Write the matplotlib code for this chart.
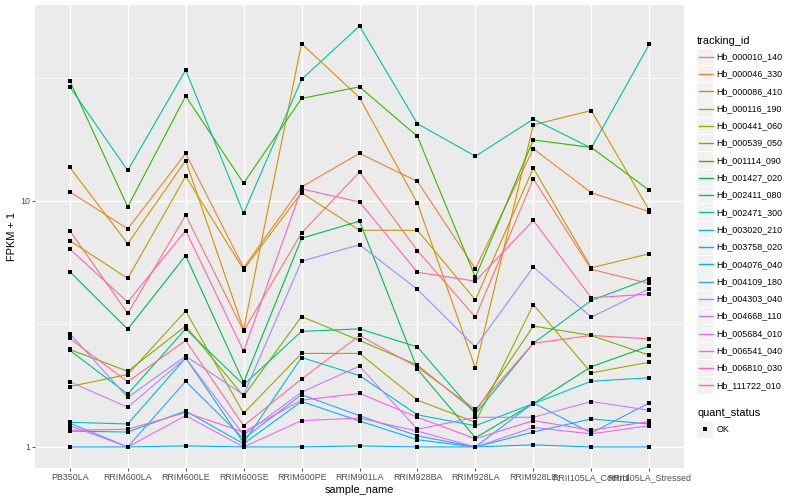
import matplotlib
matplotlib.use('Agg')
import matplotlib.pyplot as plt
import numpy as np
from matplotlib.patches import Rectangle
from matplotlib.lines import Line2D

plt.rcParams['font.family'] = ['Liberation Sans', 'DejaVu Sans']

samples = ['PB350LA', 'RRIM600LA', 'RRIM600LE', 'RRIM600SE', 'RRIM600PE', 'RRIM901LA',
           'RRIM928BA', 'RRIM928LA', 'RRIM928LE', 'RRII105LA_Control', 'RRII105LA_Stressed']

tracking_ids = ['Hb_000010_140', 'Hb_000046_330', 'Hb_000086_410', 'Hb_000116_190', 'Hb_000441_060',
                'Hb_000539_050', 'Hb_001114_090', 'Hb_001427_020', 'Hb_002411_080', 'Hb_002471_300',
                'Hb_003020_210', 'Hb_003758_020', 'Hb_004076_040', 'Hb_004109_180', 'Hb_004303_040',
                'Hb_004668_110', 'Hb_005684_010', 'Hb_006541_040', 'Hb_006810_030', 'Hb_111722_010']

# FPKM + 1 per gene, in sample order
hb_000010_140 = [7.58, 3.49, 8.76, 2.96, 7.41, 13.1, 6.28, 3.37, 12.3, 5.27, 4.62]
hb_000046_330 = [10.9, 7.7, 15.6, 5.35, 11.4, 15.6, 12.0, 5.3, 16.3, 10.8, 9.05]
hb_000086_410 = [13.7, 6.7, 14.6, 3.0, 43.6, 26.3, 9.8, 2.09, 20.4, 23.3, 9.17]
hb_000116_190 = [6.9, 4.84, 12.6, 5.26, 10.8, 7.6, 7.6, 3.96, 13.6, 5.35, 6.1]
hb_000441_060 = [1.76, 1.97, 3.57, 1.37, 2.4, 2.4, 1.55, 1.26, 3.79, 2.0, 2.21]
hb_000539_050 = [2.49, 2.03, 3.10, 1.61, 3.39, 2.71, 2.15, 1.39, 3.10, 2.84, 2.36]
hb_001114_090 = [30.8, 9.46, 26.7, 11.8, 26.1, 29.1, 18.3, 4.9, 17.7, 16.5, 11.05]
hb_001427_020 = [5.16, 3.01, 6.0, 1.83, 7.05, 8.28, 2.07, 1.09, 1.5, 2.12, 2.57]
hb_002411_080 = [2.47, 1.64, 3.02, 1.79, 2.95, 3.02, 2.55, 1.36, 2.64, 3.94, 4.83]
hb_002471_300 = [29.1, 13.3, 34.1, 8.9, 31.2, 51.4, 20.6, 15.2, 21.5, 16.4, 43.3]
hb_003020_210 = [1.26, 1.24, 2.3, 1.04, 2.31, 1.95, 1.35, 1.22, 1.5, 1.85, 1.91]
hb_003758_020 = [1.16, 1.15, 1.40, 1.03, 1.53, 1.275, 1.07, 1.0, 1.15, 1.30, 1.24]
hb_004076_040 = [1.0, 1.0, 1.01, 1.0, 1.0, 1.01, 1.0, 1.0, 1.02, 1.0, 1.0]
hb_004109_180 = [1.25, 1.0, 1.85, 1.08, 1.63, 1.34, 1.11, 1.0, 1.51, 1.14, 1.51]
hb_004303_040 = [2.89, 1.59, 2.34, 1.63, 5.69, 6.64, 4.37, 2.55, 5.39, 3.37, 4.40]
hb_004668_110 = [1.84, 1.45, 2.3, 1.12, 1.67, 2.13, 1.18, 1.32, 1.32, 1.53, 1.41]
hb_005684_010 = [1.22, 1.0, 1.34, 1.0, 1.28, 1.31, 1.16, 1.0, 1.2, 1.13, 1.22]
hb_006541_040 = [1.17, 1.18, 1.38, 1.15, 1.55, 1.65, 1.32, 1.08, 1.28, 1.17, 1.27]
hb_006810_030 = [6.38, 3.88, 7.58, 2.45, 11.2, 9.9, 5.13, 4.72, 8.33, 4.04, 4.18]
hb_111722_010 = [2.76, 1.84, 2.71, 1.22, 1.89, 2.84, 2.11, 1.42, 2.64, 2.84, 2.75]

series = [hb_000010_140, hb_000046_330, hb_000086_410, hb_000116_190, hb_000441_060,
          hb_000539_050, hb_001114_090, hb_001427_020, hb_002411_080, hb_002471_300,
          hb_003020_210, hb_003758_020, hb_004076_040, hb_004109_180, hb_004303_040,
          hb_004668_110, hb_005684_010, hb_006541_040, hb_006810_030, hb_111722_010]

colors = ["#F8766D", "#EA8331", "#D89000", "#C09B00", "#A3A500", "#7CAE00", "#39B600",
          "#00BB4E", "#00BF7D", "#00C1A3", "#00BFC4", "#00BAE0", "#00B0F6", "#35A2FF",
          "#9590FF", "#C77CFF", "#E76BF3", "#FA62DB", "#FF62BC", "#FF6C91"]

y_ticks = [1, 10]
y_tick_labels = ['1', '10']

W, H = 800, 500
fig = plt.figure(figsize=(W / 100, H / 100), dpi=100)
fig.patch.set_facecolor('white')

pl, pr, pt, pb = 35, 684, 5, 468
ax = fig.add_axes([pl / W, 1 - pb / H, (pr - pl) / W, (pb - pt) / H])
ax.set_facecolor('#EBEBEB')
for s in ax.spines.values():
    s.set_visible(False)

x = np.arange(len(samples))
for vals, c in zip(series, colors):
    ax.plot(x, vals, color=c, lw=0.8, zorder=2, solid_capstyle='butt')
for vals in series:
    ax.scatter(x, vals, marker='s', s=8, color='black', zorder=3, linewidths=0)

ax.set_yscale('log')
allv = np.log10(np.concatenate([np.array(v) for v in series]))
lo, hi = allv.min(), allv.max()
pad = 0.05 * (hi - lo)
ax.set_ylim(10 ** (lo - pad), 10 ** (hi + pad))
ax.set_xlim(-0.6, len(samples) - 1 + 0.6)

ax.set_yticks(y_ticks)
ax.set_yticklabels(y_tick_labels)
ax.set_yticks([10 ** 0.5, 10 ** 1.5], minor=True)
ax.yaxis.set_minor_formatter(matplotlib.ticker.NullFormatter())
ax.set_xticks(x)
ax.set_xticklabels(samples)

ax.grid(True, which='major', color='white', lw=1.05, zorder=0)
ax.grid(True, which='minor', axis='y', color='white', lw=0.5, zorder=0)
ax.set_axisbelow(True)
ax.tick_params(which='major', length=2.0, width=0.6, color='#333333',
               labelsize=6.4, labelcolor='#4D4D4D', pad=1.6)
ax.tick_params(which='minor', length=0)

ax.set_xlabel('sample_name', fontsize=7.9, color='black', labelpad=2.5)
ax.set_ylabel('FPKM + 1', fontsize=7.9, color='black', labelpad=2.5)

# legend (drawn in figure pixel coords)
def fx(px):
    return px / W

def fy(py):
    return 1 - py / H

fig.text(fx(697), fy(40.7), 'tracking_id', fontsize=7.9, va='center', ha='left')
step = 17.3
for i, (tid, c) in enumerate(zip(tracking_ids, colors)):
    yc = 56.7 + step * i
    fig.add_artist(Rectangle((fx(697), fy(yc + 8.2)), 16.4 / W, 16.4 / H,
                             transform=fig.transFigure, facecolor='#F2F2F2',
                             edgecolor='none', zorder=1))
    fig.add_artist(Line2D([fx(698.7), fx(713.1)], [fy(yc), fy(yc)],
                          transform=fig.transFigure, color=c, lw=1.0, zorder=3))
    fig.text(fx(716.7), fy(yc), tid, fontsize=6.4, va='center', ha='left')

fig.text(fx(697), fy(412.7), 'quant_status', fontsize=7.9, va='center', ha='left')
yc = 429.3
fig.add_artist(Rectangle((fx(697), fy(yc + 8.2)), 16.4 / W, 16.4 / H,
                         transform=fig.transFigure, facecolor='#F2F2F2',
                         edgecolor='none', zorder=1))
fig.add_artist(Line2D([fx(705.2)], [fy(yc)], transform=fig.transFigure, marker='s',
                      markersize=2.8, color='black', lw=0, markeredgewidth=0, zorder=3))
fig.text(fx(716.7), fy(yc), 'OK', fontsize=6.4, va='center', ha='left')

fig.savefig('out.png', dpi=100)
